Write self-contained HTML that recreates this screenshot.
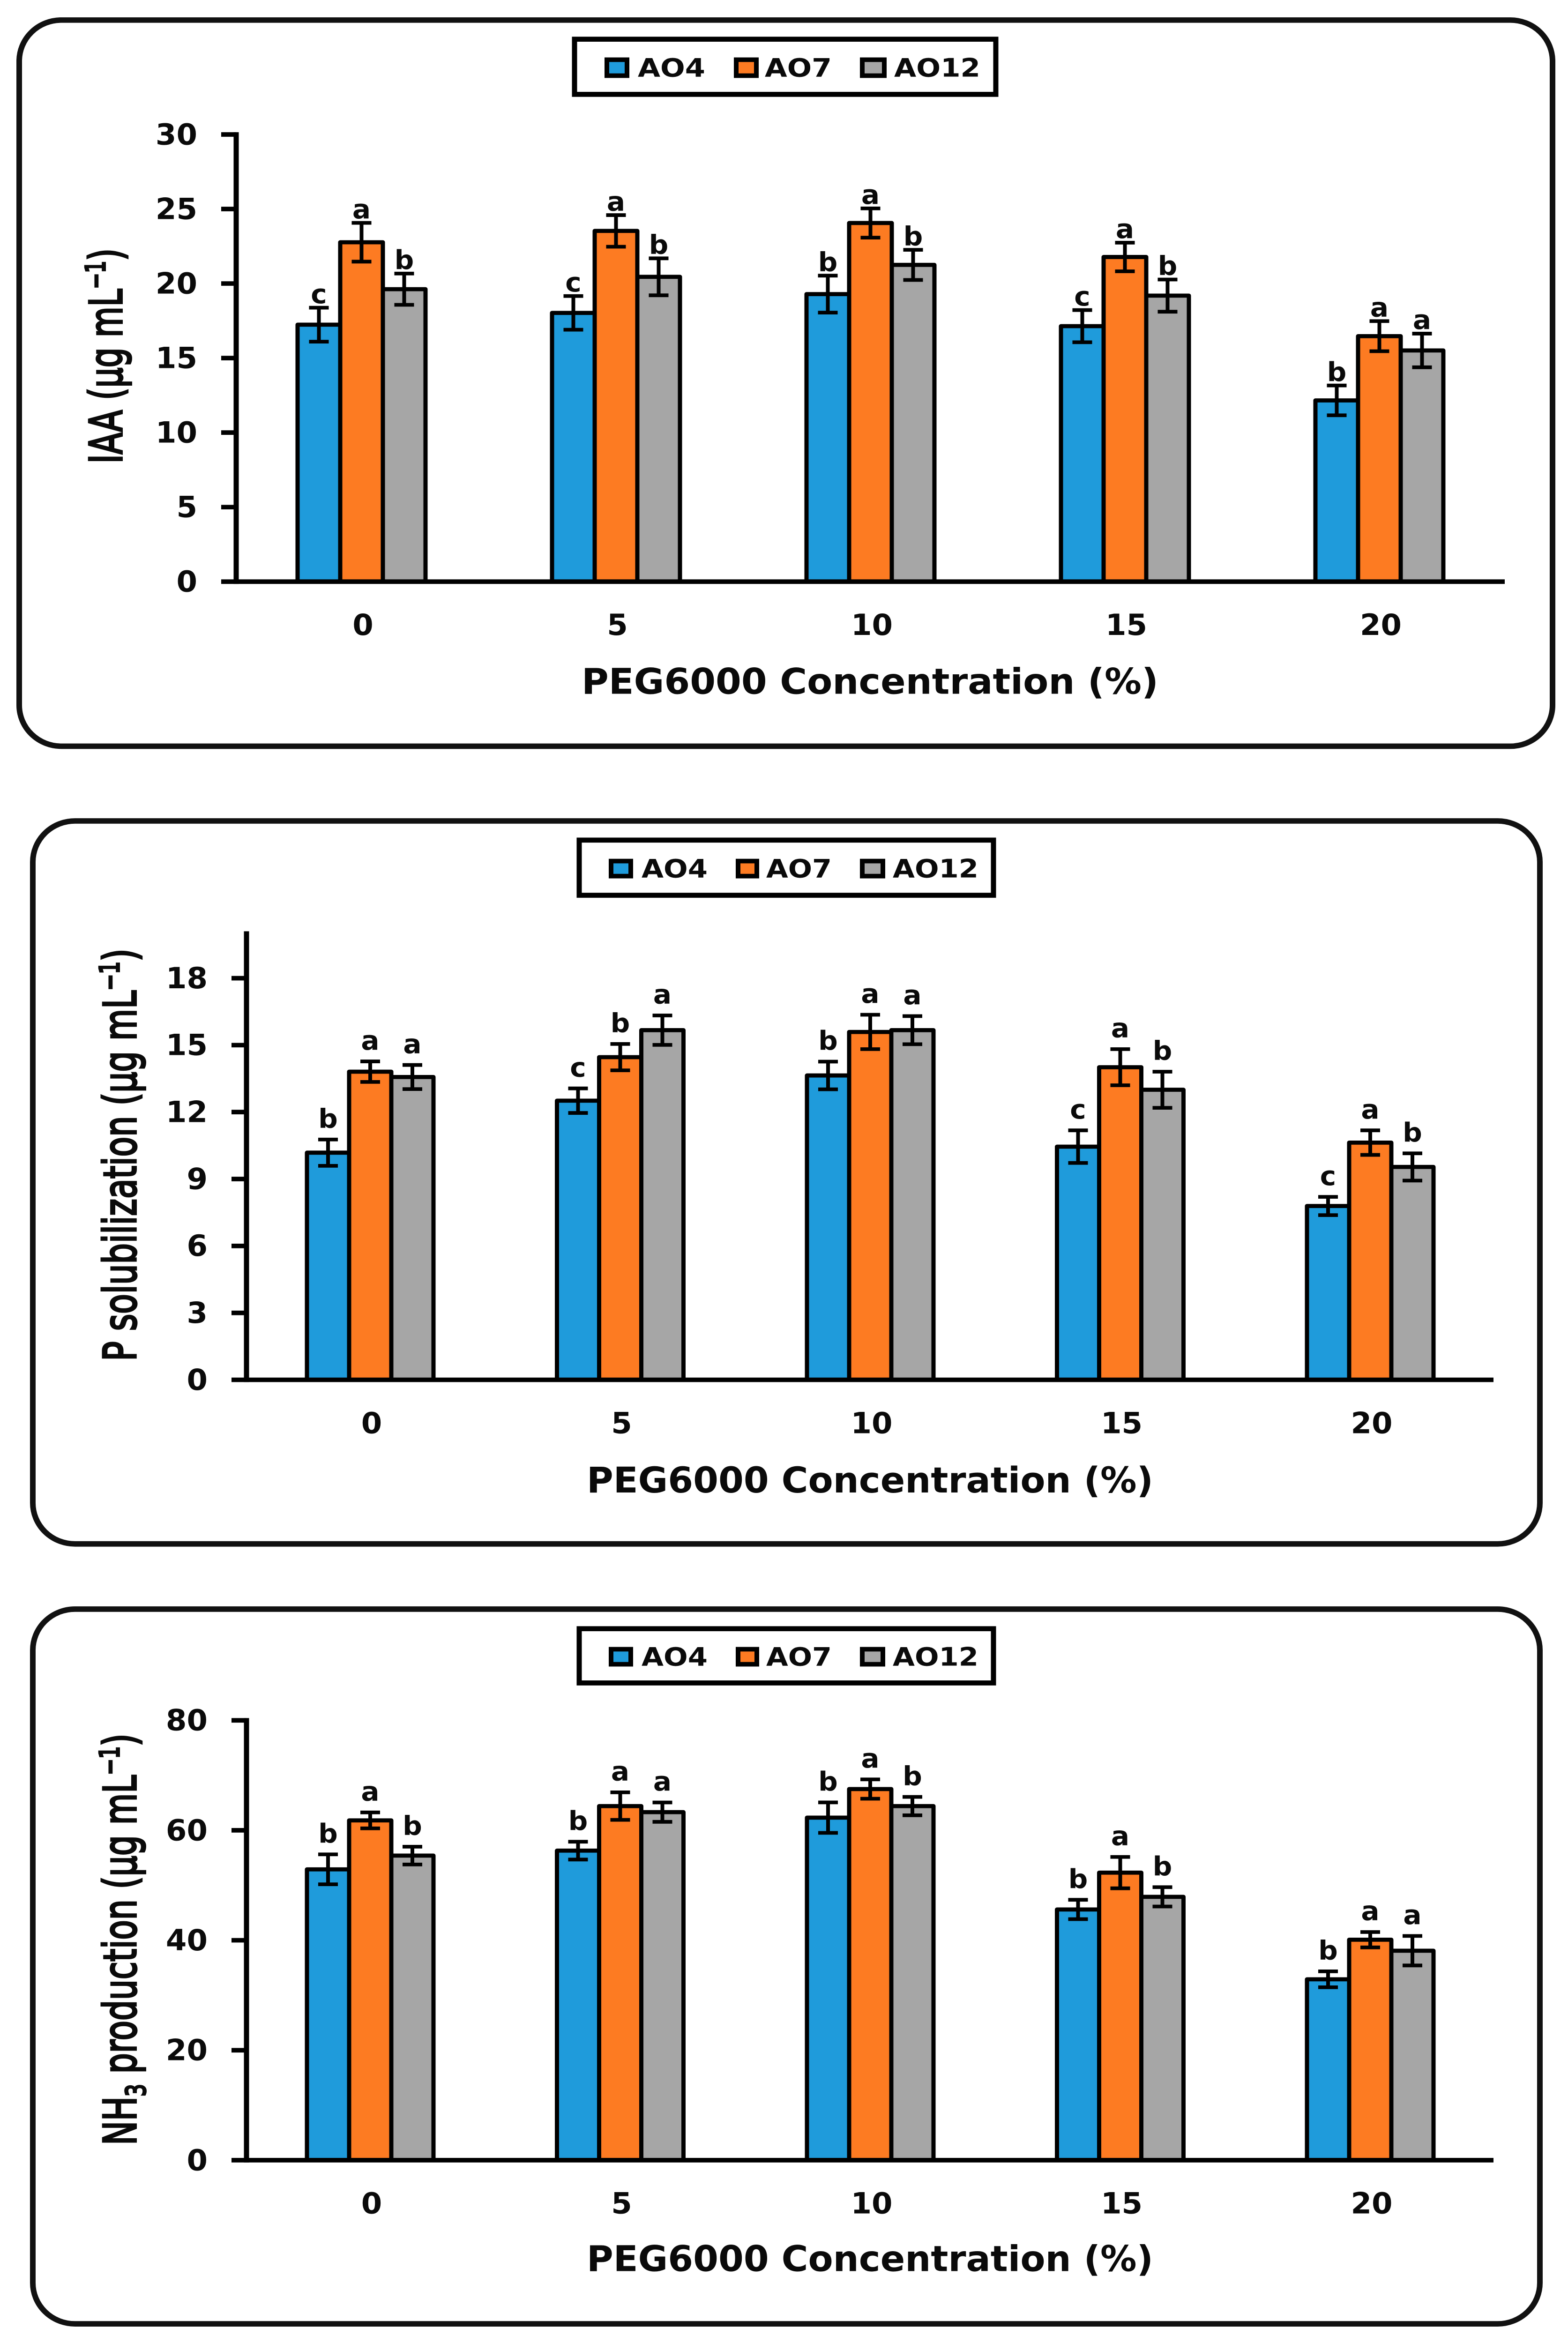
<!DOCTYPE html>
<html lang="en">
<head>
<meta charset="utf-8">
<title>Bacterial isolates under PEG6000 stress</title>
<style>
html,body{margin:0;padding:0;background:#fff;width:100%;height:100%;overflow:hidden}
svg{display:block;position:absolute;left:0;top:0;width:100vw;height:100vh}
text{font-family:"DejaVu Sans","Liberation Sans",sans-serif;fill:#0a0a0a}
.b{font-weight:700}
.legend-box{fill:#fff;stroke:#000;stroke-width:11}
.swatch{stroke:#000;stroke-width:10}
.panel{fill:#fff;stroke:#111;stroke-width:12}
</style>
</head>
<body>
<svg id="fig" xmlns="http://www.w3.org/2000/svg" viewBox="0 0 3346 5140" preserveAspectRatio="none">
<rect width="3346" height="5140" fill="#fff"/>

<g id="chart-iaa">
  <rect class="panel" x="41" y="44" width="3272" height="1593" rx="90"/>
  <g>
    <rect class="legend-box" x="1226" y="86" width="899" height="121"/>
    <rect class="swatch" x="1295" y="131" width="43" height="35" fill="#1f9bdb"/>
    <text class="b" x="1361" y="168" font-size="56" textLength="144" lengthAdjust="spacingAndGlyphs">AO4</text>
    <rect class="swatch" x="1571" y="131" width="43" height="35" fill="#fd7b22"/>
    <text class="b" x="1632" y="168" font-size="56" textLength="143" lengthAdjust="spacingAndGlyphs">AO7</text>
    <rect class="swatch" x="1840" y="131" width="47" height="35" fill="#a6a6a6"/>
    <text class="b" x="1908" y="168" font-size="56" textLength="184" lengthAdjust="spacingAndGlyphs">AO12</text>
  </g>
  <text class="b" x="1241" y="1522" font-size="78" textLength="1231" lengthAdjust="spacingAndGlyphs">PEG6000 Concentration (%)</text>
  <text transform="translate(260 1017) rotate(-90)" font-size="96" textLength="472" lengthAdjust="spacingAndGlyphs" stroke="#0a0a0a" stroke-width="4">IAA (µg mL<tspan font-size="58" dy="-36">−1</tspan><tspan dy="36">)</tspan></text>
</g>

<g id="chart-p">
  <rect class="panel" x="70" y="1801" width="3216" height="1586" rx="90"/>
  <g>
    <rect class="legend-box" x="1236" y="1843" width="884" height="121"/>
    <rect class="swatch" x="1304" y="1889" width="42" height="33" fill="#1f9bdb"/>
    <text class="b" x="1369" y="1925" font-size="56" textLength="141" lengthAdjust="spacingAndGlyphs">AO4</text>
    <rect class="swatch" x="1575" y="1889" width="40" height="33" fill="#fd7b22"/>
    <text class="b" x="1635" y="1925" font-size="56" textLength="140" lengthAdjust="spacingAndGlyphs">AO7</text>
    <rect class="swatch" x="1840" y="1889" width="44" height="33" fill="#a6a6a6"/>
    <text class="b" x="1905" y="1925" font-size="56" textLength="183" lengthAdjust="spacingAndGlyphs">AO12</text>
  </g>
  <text class="b" x="1252" y="3274" font-size="78" textLength="1209" lengthAdjust="spacingAndGlyphs">PEG6000 Concentration (%)</text>
  <text transform="translate(290 2986) rotate(-90)" font-size="96" textLength="905" lengthAdjust="spacingAndGlyphs" stroke="#0a0a0a" stroke-width="4">P solubilization (µg mL<tspan font-size="58" dy="-36">−1</tspan><tspan dy="36">)</tspan></text>
</g>

<g id="chart-nh3">
  <rect class="panel" x="70" y="3530" width="3216" height="1568" rx="90"/>
  <g>
    <rect class="legend-box" x="1236" y="3573" width="884" height="119"/>
    <rect class="swatch" x="1304" y="3618" width="42" height="33" fill="#1f9bdb"/>
    <text class="b" x="1369" y="3654" font-size="56" textLength="141" lengthAdjust="spacingAndGlyphs">AO4</text>
    <rect class="swatch" x="1575" y="3618" width="40" height="33" fill="#fd7b22"/>
    <text class="b" x="1635" y="3654" font-size="56" textLength="140" lengthAdjust="spacingAndGlyphs">AO7</text>
    <rect class="swatch" x="1840" y="3618" width="44" height="33" fill="#a6a6a6"/>
    <text class="b" x="1905" y="3654" font-size="56" textLength="183" lengthAdjust="spacingAndGlyphs">AO12</text>
  </g>
  <text class="b" x="1252" y="4982" font-size="78" textLength="1209" lengthAdjust="spacingAndGlyphs">PEG6000 Concentration (%)</text>
  <text transform="translate(290 4706) rotate(-90)" font-size="96" textLength="903" lengthAdjust="spacingAndGlyphs" stroke="#0a0a0a" stroke-width="4">NH<tspan font-size="58" dy="20">3</tspan><tspan dy="-20"> production (µg mL</tspan><tspan font-size="58" dy="-36">−1</tspan><tspan dy="36">)</tspan></text>
</g>
</svg>

<script>
// ---------- data ----------
const categories = ['0', '5', '10', '15', '20'];
const seriesNames = ['AO4', 'AO7', 'AO12'];

const iaaTicks = [0, 5, 10, 15, 20, 25, 30];
const iaaAO4 = [17.24, 18.03, 19.29, 17.14, 12.16];
const iaaAO7 = [22.77, 23.53, 24.06, 21.78, 16.47];
const iaaAO12 = [19.62, 20.45, 21.25, 19.19, 15.51];
const iaaErrAO4 = [1.14, 1.13, 1.24, 1.08, 1.0];
const iaaErrAO7 = [1.3, 1.06, 0.98, 0.96, 1.01];
const iaaErrAO12 = [1.05, 1.24, 1.01, 1.08, 1.13];
const iaaLettersAO4 = ['c', 'c', 'b', 'c', 'b'];
const iaaLettersAO7 = ['a', 'a', 'a', 'a', 'a'];
const iaaLettersAO12 = ['b', 'b', 'b', 'b', 'a'];

const pTicks = [0, 3, 6, 9, 12, 15, 18];
const pAO4 = [10.18, 12.51, 13.64, 10.45, 7.79];
const pAO7 = [13.81, 14.46, 15.59, 14.01, 10.63];
const pAO12 = [13.57, 15.67, 15.67, 13.0, 9.54];
const pErrAO4 = [0.59, 0.55, 0.62, 0.73, 0.41];
const pErrAO7 = [0.46, 0.59, 0.77, 0.81, 0.55];
const pErrAO12 = [0.54, 0.66, 0.63, 0.81, 0.61];
const pLettersAO4 = ['b', 'c', 'b', 'c', 'c'];
const pLettersAO7 = ['a', 'b', 'a', 'a', 'a'];
const pLettersAO12 = ['a', 'a', 'a', 'b', 'b'];

const nh3Ticks = [0, 20, 40, 60, 80];
const nh3AO4 = [52.9, 56.3, 62.3, 45.6, 32.9];
const nh3AO7 = [61.8, 64.4, 67.5, 52.3, 40.1];
const nh3AO12 = [55.4, 63.3, 64.4, 47.9, 38.1];
const nh3ErrAO4 = [2.72, 1.62, 2.77, 1.76, 1.45];
const nh3ErrAO7 = [1.45, 2.5, 1.76, 2.85, 1.4];
const nh3ErrAO12 = [1.62, 1.76, 1.67, 1.76, 2.68];
const nh3LettersAO4 = ['b', 'b', 'b', 'b', 'b'];
const nh3LettersAO7 = ['a', 'a', 'a', 'a', 'a'];
const nh3LettersAO12 = ['b', 'a', 'b', 'b', 'a'];

// ---------- drawing ----------
const NS = 'http://www.w3.org/2000/svg';
const COLORS = ['#1f9bdb', '#fd7b22', '#a6a6a6'];

function make(tag, attrs, parent) {
  const el = document.createElementNS(NS, tag);
  for (const k in attrs) el.setAttribute(k, attrs[k]);
  parent.appendChild(el);
  return el;
}

function drawChart(cfg) {
  const root = document.getElementById(cfg.id);
  const yScale = v => cfg.y0 - (v / cfg.yMax) * (cfg.y0 - cfg.yTop);
  const xScale = (g, s) => cfg.left + g * cfg.step + s * cfg.barW;

  // bars first, axes on top
  cfg.series.forEach((vals, s) => {
    vals.forEach((v, g) => {
      const x = xScale(g, s);
      const y = yScale(v);
      const bar = make('rect', {x: x, y: y, width: cfg.barW, height: cfg.y0 - y, fill: COLORS[s], stroke: '#000', 'stroke-width': 9, 'stroke-linejoin': 'round'}, root);
      
      
    });
  });

  cfg.series.forEach((vals, s) => {
    vals.forEach((v, g) => {
      const cx = xScale(g, s) + cfg.barW / 2;
      const top = yScale(v + cfg.errors[s][g]);
      const bot = yScale(v - cfg.errors[s][g]);
      const err = make('path', {d: 'M' + (cx - 21) + ' ' + top + 'H' + (cx + 21) + 'M' + cx + ' ' + top + 'V' + bot + 'M' + (cx - 21) + ' ' + bot + 'H' + (cx + 21), fill: 'none', stroke: '#000', 'stroke-width': 8}, root);
      
      
      const lab = make('text', {x: cx, y: top - cfg.letterGap, 'text-anchor': 'middle', 'font-size': 58, 'font-weight': 700}, root);
      lab.textContent = cfg.letters[s][g];
      
      
    });
  });

  const yAxis = make('line', {x1: cfg.axisX, x2: cfg.axisX, y1: cfg.yTop - 5, y2: cfg.y0 + 5, stroke: '#000', 'stroke-width': 11}, root);
  
  
  const xAxis = make('line', {x1: cfg.axisX, x2: cfg.axisRight, y1: cfg.y0, y2: cfg.y0, stroke: '#000', 'stroke-width': 10}, root);
  
  

  cfg.ticks.forEach(t => {
    const y = yScale(t);
    const tick = make('line', {x1: cfg.axisX - 32, x2: cfg.axisX, y1: y, y2: y, stroke: '#000', 'stroke-width': 10}, root);
    
    
    const lab = make('text', {x: cfg.axisX - 83, y: y + 22, 'text-anchor': 'end', 'font-size': 64, 'font-weight': 700}, root);
    lab.textContent = t;
    
    
  });

  categories.forEach((c, g) => {
    const lab = make('text', {x: xScale(g, 1.5) + 3, y: cfg.y0 + 117, 'text-anchor': 'middle', 'font-size': 64, 'font-weight': 700}, root);
    lab.textContent = c;
    
    
  });
}

drawChart({id: 'chart-iaa', series: [iaaAO4, iaaAO7, iaaAO12], errors: [iaaErrAO4, iaaErrAO7, iaaErrAO12], letters: [iaaLettersAO4, iaaLettersAO7, iaaLettersAO12], ticks: iaaTicks, yMax: 30, y0: 1276, yTop: 295, axisX: 504, axisRight: 3211, left: 635, step: 543, barW: 91, letterGap: 10});
drawChart({id: 'chart-p', series: [pAO4, pAO7, pAO12], errors: [pErrAO4, pErrAO7, pErrAO12], letters: [pLettersAO4, pLettersAO7, pLettersAO12], ticks: pTicks, yMax: 20, y0: 3027, yTop: 2048, axisX: 526, axisRight: 3187, left: 655, step: 533.5, barW: 90, letterGap: 26});
drawChart({id: 'chart-nh3', series: [nh3AO4, nh3AO7, nh3AO12], errors: [nh3ErrAO4, nh3ErrAO7, nh3ErrAO12], letters: [nh3LettersAO4, nh3LettersAO7, nh3LettersAO12], ticks: nh3Ticks, yMax: 80, y0: 4739, yTop: 3774, axisX: 526, axisRight: 3187, left: 655, step: 533.5, barW: 90, letterGap: 26});
</script>
</body>
</html>
